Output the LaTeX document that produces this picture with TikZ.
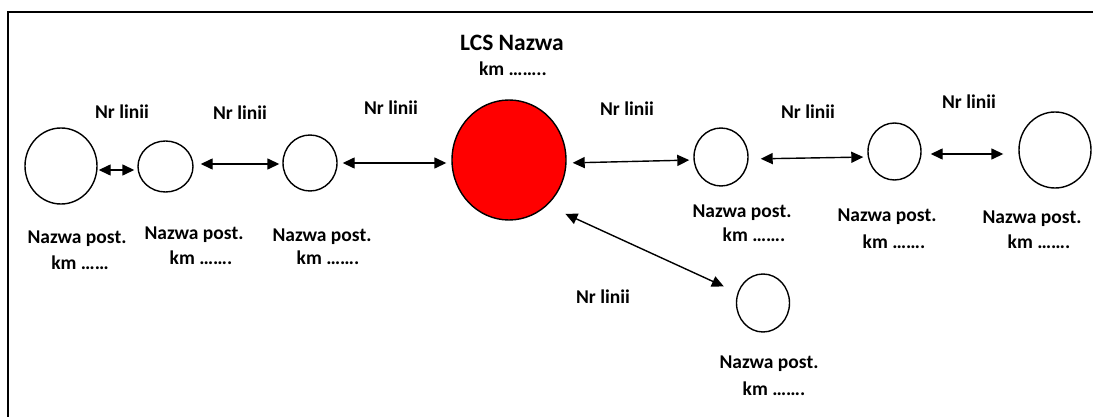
\documentclass[tikz,border=0pt]{standalone}
\usepackage{fontspec}
\setmainfont{Carlito}
\usetikzlibrary{arrows.meta,shapes.geometric}
\begin{document}
\begin{tikzpicture}[x=1pt,y=-1pt,
  stn/.style={draw, ellipse, line width=1.4pt, inner sep=0pt},
  lbl/.style={font=\bfseries\fontsize{19.5}{24}\selectfont, anchor=base, inner sep=0pt},
  big/.style={font=\bfseries\fontsize{23.5}{28}\selectfont, anchor=base, inner sep=0pt},
  arr/.style={line width=1.4pt, {Triangle[length=12pt,width=11pt]}-{Triangle[length=12pt,width=11pt]}}]
\useasboundingbox (0,0) rectangle (1093,417);
\draw[line width=2pt] (8,417) -- (8,12) -- (1093,12);

% stations
\node[stn, minimum width=72pt, minimum height=76pt] (A) at (61,166) {};
\node[stn, minimum width=55pt, minimum height=51pt] (B) at (165.5,166.5) {};
\node[stn, minimum width=54pt, minimum height=56pt] (C) at (310,163) {};
\node[stn, fill=red, minimum width=114pt, minimum height=120pt] (R) at (509,160) {};
\node[stn, minimum width=54pt, minimum height=58pt] (E) at (721,157) {};
\node[stn, minimum width=53pt, minimum height=57pt] (F) at (894.5,151.5) {};
\node[stn, minimum width=72pt, minimum height=76pt] (G) at (1055,150) {};
\node[stn, minimum width=53pt, minimum height=58pt] (H) at (763,303) {};

% connectors
\draw[arr, shorten <=1pt, shorten >=3pt] ([yshift=-4pt]A.east) -- ([yshift=-3.5pt]B.west);
\draw[arr, shorten <=7pt, shorten >=3pt] ([yshift=2.5pt]B.east) -- ([yshift=-1pt]C.west);
\draw[arr, shorten <=5pt, shorten >=5pt] (C.east) -- ([yshift=-3pt]R.west);
\draw[arr, shorten <=6pt, shorten >=4pt] ([yshift=-3pt]R.east) -- ([yshift=-3pt]E.west);
\draw[arr, shorten <=12pt, shorten >=4pt] ([yshift=-2pt]E.east) -- ([yshift=-5.5pt]F.west);
\draw[arr, shorten <=9pt, shorten >=15pt] ([yshift=-2.5pt]F.east) -- ([yshift=-4pt]G.west);
\draw[arr, shorten <=20pt, shorten >=15pt] (R.-50) -- (H.158);

% central label
\node[big] (lcs) at (512,50.5) {LCS Nazwa};
\node[lbl] (lcskm) at (513,76) {km ……..};

% line numbers
\node[lbl] (n1) at (122,119) {Nr linii};
\node[lbl] (n2) at (240,120) {Nr linii};
\node[lbl] (n3) at (391,115) {Nr linii};
\node[lbl] (n4) at (627,116) {Nr linii};
\node[lbl] (n5) at (808,119) {Nr linii};
\node[lbl] (n6) at (969,109) {Nr linii};
\node[lbl] (n7) at (603,303) {Nr linii};

% station labels
\node[lbl] (ta) at (77,243) {Nazwa post.};
\node[lbl] (ka) at (80,269) {km ……};
\node[lbl] (tb) at (194,239) {Nazwa post.};
\node[lbl] (kb) at (201,264) {km …….};
\node[lbl] (tc) at (322,241) {Nazwa post.};
\node[lbl] (kc) at (328,264) {km …….};
\node[lbl] (te) at (742,217) {Nazwa post.};
\node[lbl] (ke) at (754,241) {km …….};
\node[lbl] (tf) at (887,222) {Nazwa post.};
\node[lbl] (kf) at (894,248) {km …….};
\node[lbl] (tg) at (1032,223) {Nazwa post.};
\node[lbl] (kg) at (1039,248) {km …….};
\node[lbl] (th) at (769,368) {Nazwa post.};
\node[lbl] (kh) at (774,395) {km …….};
\end{tikzpicture}
\end{document}
